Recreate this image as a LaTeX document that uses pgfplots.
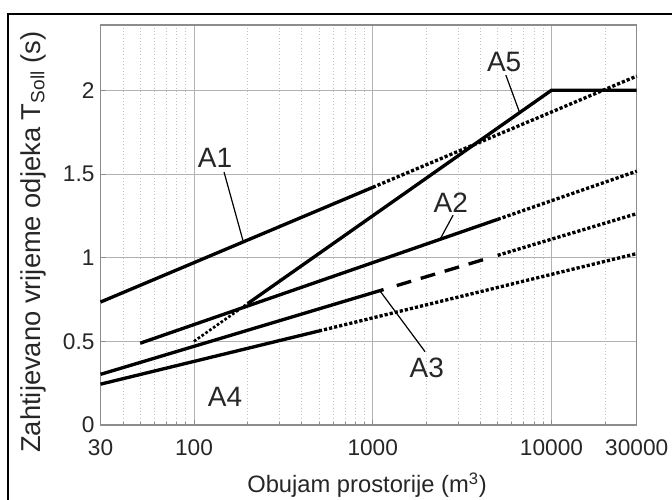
\documentclass[border=0pt]{standalone}
\usepackage{pgfplots}
\pgfplotsset{compat=1.18}
\usepackage{fontspec}
\setmainfont{Liberation Sans}
\begin{document}
\begin{tikzpicture}
\begin{axis}[
  xmode=log, scale only axis, width=402.15pt, height=300pt,
  xmin=30, xmax=30000, ymin=0, ymax=2.39,
  xtick={30,100,1000,10000,30000},
  xticklabels={30,100,1000,10000,30000},
  minor xtick={40,50,60,70,80,90,200,300,400,500,600,700,800,900,2000,3000,4000,5000,6000,7000,8000,9000,20000},
  ytick={0,0.5,1,1.5,2},
  yticklabels={0,0.5,1,1.5,2},
  /pgf/number format/assume math mode=true,
  grid=both,
  major grid style={draw=black!30, line width=0.6pt},
  minor grid style={draw=black!25, line width=0.5pt, dotted},
  axis line style={draw=black!45, line width=0.8pt},
  tick align=inside,
  major tick length=4pt, minor tick length=2.5pt,
  tick style={draw=black!45, line width=0.5pt},
  xtick pos=bottom, ytick pos=left,
  tick label style={font=\fontsize{17}{20}\selectfont, text=black!85},
  xticklabel style={anchor=center, yshift=-17pt},
  yticklabel style={xshift=-1pt},
  xlabel={Obujam prostorije (m\textsuperscript{3})},
  ylabel={Zahtijevano vrijeme odjeka T\textsubscript{Soll} (s)},
  xlabel style={font=\fontsize{17.8}{21}\selectfont, text=black!85, at={([yshift=-45pt]rel axis cs:0.497,0)}, anchor=center},
  ylabel style={font=\fontsize{20.5}{24}\selectfont, text=black!85, at={([xshift=-50.6pt]rel axis cs:0,0.4575)}, anchor=center, rotate=0},
  clip=false,
  every axis plot/.append style={line width=2.5pt, black},
]
% A1
\addplot[solid] coordinates {(30,0.7347) (1000,1.42)};
\addplot[dash pattern=on 2.4pt off 1.5pt] coordinates {(1000,1.42) (30000,2.0847)};
% A2
\addplot[solid] coordinates {(50,0.4886) (5000,1.2286)};
\addplot[dash pattern=on 2.4pt off 1.5pt] coordinates {(5000,1.2286) (30000,1.5165)};
% A3
\addplot[solid] coordinates {(30,0.3027) (1150,0.8094)};
\addplot[dash pattern=on 11.25pt off 7.5pt] coordinates {(1363,0.8331) (4347,0.9943)};
\addplot[dash pattern=on 2.4pt off 1.5pt] coordinates {(5000,1.0137) (30000,1.2627)};
% A4
\addplot[solid] coordinates {(30,0.2440) (500,0.5617)};
\addplot[dash pattern=on 2.4pt off 1.5pt] coordinates {(500,0.5617) (30000,1.0241)};
% A5
\addplot[dash pattern=on 2pt off 1.5pt, line width=2pt] coordinates {(100,0.5) (200,0.7258)};
\addplot[solid] coordinates {(200,0.7258) (10000,2.0) (30000,2.0)};
% leaders
\draw[line width=0.9pt] (axis cs:147.3,1.511) -- (axis cs:188.2,1.10);
\draw[line width=0.9pt] (axis cs:2817,1.254) -- (axis cs:2382,1.11);
\draw[line width=0.9pt] (axis cs:1963,0.438) -- (axis cs:1100,0.80);
\draw[line width=0.9pt] (axis cs:5555,2.091) -- (axis cs:6619,1.87);
% labels
\tikzset{lab/.style={font=\fontsize{21}{24}\selectfont, text=black!85, inner sep=0pt}}
\node[lab] at (axis cs:131.2,1.595) {A1};
\node[lab] at (axis cs:2734,1.326) {A2};
\node[lab] at (axis cs:2007,0.3405) {A3};
\node[lab] at (axis cs:149.2,0.169) {A4};
\node[lab] at (axis cs:5435,2.168) {A5};
\coordinate (o) at (rel axis cs:0,0);
\end{axis}
\draw[line width=1.2pt] ([xshift=-69.2pt,yshift=-60pt]o) -- ([xshift=-69.2pt,yshift=308.25pt]o) -- ([xshift=440pt,yshift=308.25pt]o);
\pgfresetboundingbox
\path[use as bounding box] ([xshift=-75.4pt,yshift=-56.25pt]o) rectangle ++(504pt,375pt);
\end{tikzpicture}
\end{document}
